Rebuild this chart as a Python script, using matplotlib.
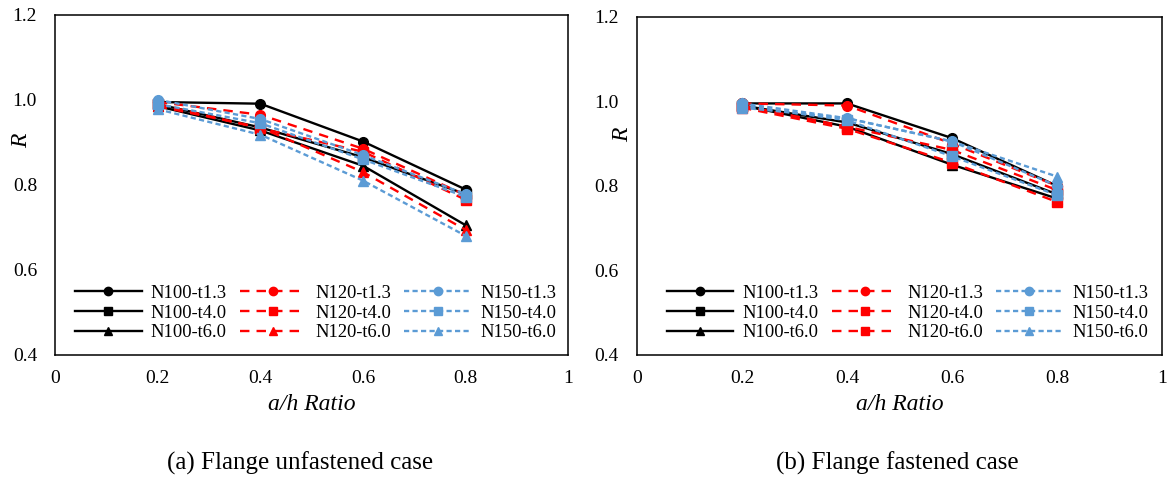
import matplotlib.pyplot as plt
from matplotlib.ticker import FixedLocator, FuncFormatter

plt.rcParams["font.family"] = ["Liberation Serif", "DejaVu Serif"]

# a/h ratio
ratio = [0.2, 0.4, 0.6, 0.8]

# (a) flange unfastened
a_n100_t13 = [0.995, 0.991, 0.902, 0.789]
a_n100_t40 = [0.990, 0.935, 0.865, 0.778]
a_n100_t60 = [0.985, 0.928, 0.845, 0.705]
a_n120_t13 = [0.995, 0.965, 0.885, 0.776]
a_n120_t40 = [0.990, 0.933, 0.878, 0.765]
a_n120_t60 = [0.985, 0.935, 0.830, 0.694]
a_n150_t13 = [1.000, 0.955, 0.870, 0.778]
a_n150_t40 = [0.990, 0.945, 0.860, 0.772]
a_n150_t60 = [0.978, 0.918, 0.810, 0.680]

# (b) flange fastened
b_n100_t13 = [0.995, 0.995, 0.913, 0.800]
b_n100_t40 = [0.990, 0.950, 0.875, 0.780]
b_n100_t60 = [0.990, 0.940, 0.850, 0.770]
b_n120_t13 = [0.995, 0.990, 0.900, 0.800]
b_n120_t40 = [0.990, 0.940, 0.885, 0.790]
b_n120_t60 = [0.985, 0.935, 0.855, 0.762]
b_n150_t13 = [0.995, 0.960, 0.905, 0.800]
b_n150_t40 = [0.990, 0.955, 0.870, 0.778]
b_n150_t60 = [0.985, 0.960, 0.905, 0.822]

labels = ["N100-t1.3", "N100-t4.0", "N100-t6.0",
          "N120-t1.3", "N120-t4.0", "N120-t6.0",
          "N150-t1.3", "N150-t4.0", "N150-t6.0"]

BLUE = "#5B9BD5"
styles = [
    dict(color="black", ls="-", marker="o"),
    dict(color="black", ls="-", marker="s"),
    dict(color="black", ls="-", marker="^"),
    dict(color="red", ls=(0, (4, 3)), marker="o"),
    dict(color="red", ls=(0, (4, 3)), marker="s"),
    dict(color="red", ls=(0, (4, 3)), marker="^"),
    dict(color=BLUE, ls=(0, (2.2, 1.4)), marker="o"),
    dict(color=BLUE, ls=(0, (2.2, 1.4)), marker="s"),
    dict(color=BLUE, ls=(0, (2.2, 1.4)), marker="^"),
]


def draw(ax, series, leg_x, ylab_xy, markers=None):
    for i, (vals, lab, st) in enumerate(zip(series, labels, styles)):
        st = dict(st)
        if markers is not None:
            st["marker"] = markers[i]
        ax.plot(ratio, vals, label=lab, lw=1.7, ms=7, **st)
    ax.set_xlim(0, 1)
    ax.set_ylim(0.4, 1.2)
    ax.xaxis.set_major_locator(FixedLocator([0, 0.2, 0.4, 0.6, 0.8, 1.0]))
    ax.yaxis.set_major_locator(FixedLocator([0.4, 0.6, 0.8, 1.0, 1.2]))
    ax.xaxis.set_major_formatter(FuncFormatter(lambda v, p: "%g" % round(v, 1)))
    ax.yaxis.set_major_formatter(FuncFormatter(lambda v, p: "%.1f" % v))
    ax.tick_params(length=0, labelsize=14, pad=11)
    ax.tick_params(axis="y", pad=13)
    for sp in ax.spines.values():
        sp.set_linewidth(1.1)
    ax.set_xlabel("a/h Ratio", fontsize=17, style="italic", labelpad=5)
    ax.set_ylabel("R", fontsize=17, style="italic")
    ax.yaxis.set_label_coords(*ylab_xy)
    leg = ax.legend(ncol=3, loc="lower left", bbox_to_anchor=(leg_x, 0.04),
                    frameon=False, fontsize=13.3, handlelength=3.6,
                    columnspacing=0.7, handletextpad=0.5, labelspacing=0.15,
                    borderaxespad=0, borderpad=0)
    for h in leg.legend_handles:
        h.set_markersize(6)


fig = plt.figure(figsize=(11.72, 4.79), dpi=100)
ax1 = fig.add_axes([0.047, 0.259, 0.438, 0.710])
ax2 = fig.add_axes([0.5435, 0.259, 0.448, 0.706])

draw(ax1, [a_n100_t13, a_n100_t40, a_n100_t60,
           a_n120_t13, a_n120_t40, a_n120_t60,
           a_n150_t13, a_n150_t40, a_n150_t60],
     leg_x=0.039, ylab_xy=(-0.045, 0.63))
draw(ax2, [b_n100_t13, b_n100_t40, b_n100_t60,
           b_n120_t13, b_n120_t40, b_n120_t60,
           b_n150_t13, b_n150_t40, b_n150_t60],
     leg_x=0.057, ylab_xy=(-0.008, 0.65),
     markers=["o", "s", "^", "o", "s", "s", "o", "s", "^"])

fig.text(0.256, 0.02, "(a) Flange unfastened case", ha="center", fontsize=18)
fig.text(0.766, 0.02, "(b) Flange fastened case", ha="center", fontsize=18)

fig.savefig("out.png", dpi=100)
